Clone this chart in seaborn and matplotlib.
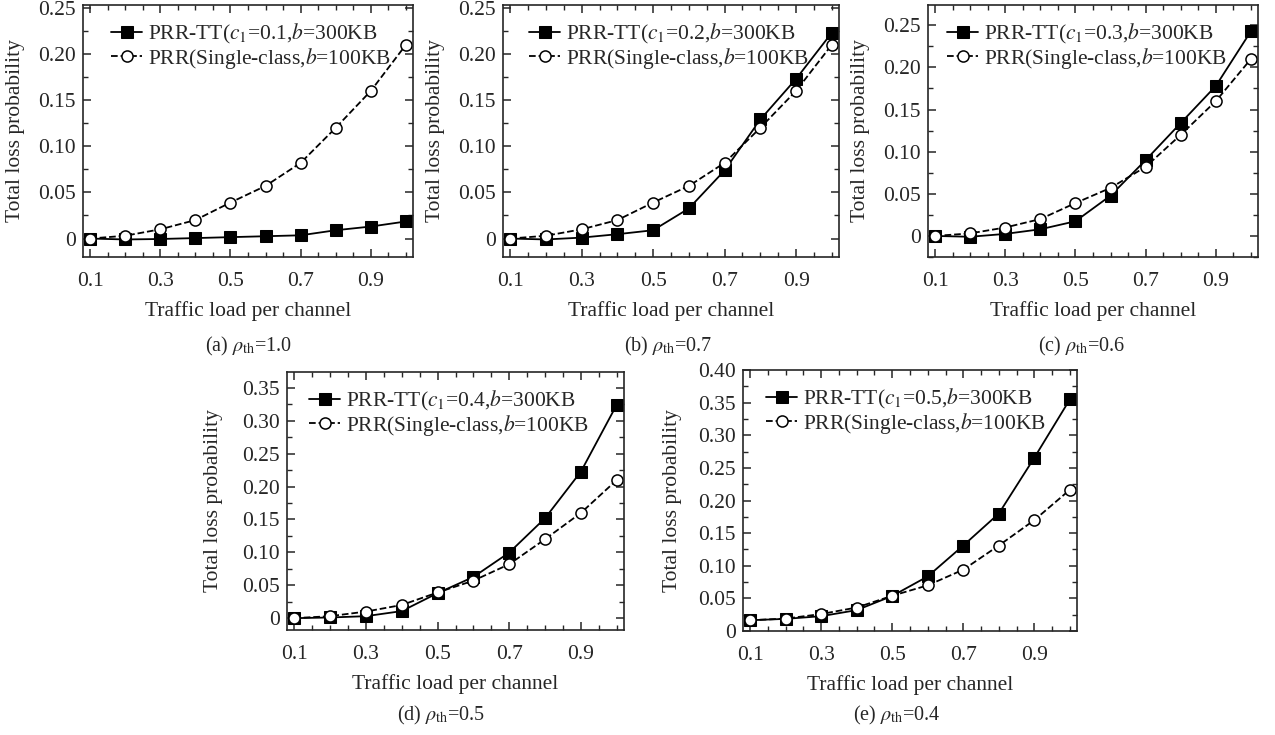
import numpy as np
import pandas as pd
import matplotlib
matplotlib.use("Agg")
import matplotlib.pyplot as plt
import seaborn as sns
from matplotlib.ticker import MultipleLocator, FuncFormatter

# ─────────────────────────────────────────────
#  DATA
# ─────────────────────────────────────────────
load = [0.1, 0.2, 0.3, 0.4, 0.5, 0.6, 0.7, 0.8, 0.9, 1.0]

prr_single = [0.0, 0.003, 0.010, 0.020, 0.039, 0.057, 0.082, 0.120, 0.160, 0.210]
prr_single_e = [0.0165, 0.019, 0.026, 0.036, 0.054, 0.070, 0.094, 0.131, 0.170, 0.2165]

prr_tt_a = [0.0, -0.001, -0.0005, 0.0005, 0.0015, 0.0025, 0.0035, 0.009, 0.013, 0.0185]
prr_tt_b = [0.0, -0.001, 0.001, 0.0047, 0.009, 0.0326, 0.0738, 0.129, 0.173, 0.223]
prr_tt_c = [0.0, -0.001, 0.0024, 0.0079, 0.0174, 0.0478, 0.090, 0.134, 0.178, 0.243]
prr_tt_d = [0.0, 0.001, 0.003, 0.0107, 0.038, 0.0626, 0.0997, 0.152, 0.2228, 0.3245]
prr_tt_e = [0.0165, 0.0186, 0.0227, 0.032, 0.0537, 0.0837, 0.131, 0.180, 0.2656, 0.355]

c1_values = ["0.1", "0.2", "0.3", "0.4", "0.5"]
rho_th = ["1.0", "0.7", "0.6", "0.5", "0.4"]
panel_tags = ["a", "b", "c", "d", "e"]
xticks = [0.1, 0.3, 0.5, 0.7, 0.9]

# ─────────────────────────────────────────────
#  STYLE
# ─────────────────────────────────────────────
sns.set_style("ticks")
plt.rcParams["font.family"] = ["Liberation Serif", "DejaVu Serif"]
plt.rcParams["mathtext.fontset"] = "stix"
plt.rcParams["xtick.direction"] = "in"
plt.rcParams["ytick.direction"] = "in"
plt.rcParams["xtick.top"] = True
plt.rcParams["ytick.right"] = True
plt.rcParams["axes.linewidth"] = 1.2

W, H = 1275, 735
fig = plt.figure(figsize=(12.75, 7.35), dpi=100)

# axes boxes in pixels: left, top, right, bottom
boxes = [(83, 5, 413, 257), (503, 5, 839, 257), (928, 5, 1258, 257),
         (287, 372, 624, 630), (743, 370, 1077, 631)]
ylims = [(-0.02, 0.253), (-0.02, 0.253), (-0.025, 0.274),
         (-0.018, 0.374), (0.0, 0.40)]
ylabel_off = [58, 58, 58, 64, 61]
legend_off = [15, 13, 6, 9, 10]     # px from left spine to legend box
captions_xy = [(249, 346), (668, 346), (1082, 346), (441, 715), (897, 715)]

tt_series = [prr_tt_a, prr_tt_b, prr_tt_c, prr_tt_d, prr_tt_e]
single_series = [prr_single, prr_single, prr_single, prr_single, prr_single_e]


def fmt_y(v, pos):
    return "0" if abs(v) < 1e-9 else f"{v:.2f}"


for i in range(5):
    l, t, r, b = boxes[i]
    ax = fig.add_axes([l / W, 1 - b / H, (r - l) / W, (b - t) / H])

    df = pd.DataFrame({"load": load, "tt": tt_series[i], "single": single_series[i]})

    sns.lineplot(data=df, x="load", y="tt", ax=ax, color="black", lw=1.3,
                 marker="s", markersize=9, markerfacecolor="black",
                 markeredgecolor="black",
                 label=f"PRR-TT($c_1$={c1_values[i]},$b$=300KB")
    sns.lineplot(data=df, x="load", y="single", ax=ax, color="black", lw=1.3,
                 linestyle="--", marker="o", markersize=8,
                 markerfacecolor="white", markeredgecolor="black",
                 markeredgewidth=1.1,
                 label="PRR(Single-class,$b$=100KB")

    ax.set_xlim(0.08, 1.02)
    ax.set_ylim(*ylims[i])
    ax.set_xticks(xticks)
    ax.xaxis.set_minor_locator(MultipleLocator(0.05))
    ax.yaxis.set_major_locator(MultipleLocator(0.05))
    ax.yaxis.set_minor_locator(MultipleLocator(0.025))
    ax.yaxis.set_major_formatter(FuncFormatter(fmt_y))
    ax.xaxis.set_major_formatter(FuncFormatter(lambda v, p: f"{v:.1f}"))
    ax.tick_params(which="major", length=6, width=1.1, labelsize=15.5, pad=5)
    ax.tick_params(axis="x", which="major", pad=11)
    ax.tick_params(which="minor", length=3.5, width=1.0, top=True, right=True)
    for s in ax.spines.values():
        s.set_visible(True)

    ax.set_xlabel("Traffic load per channel", fontsize=15.5, labelpad=7)
    ax.set_ylabel("Total loss probability", fontsize=15.5)
    ax.yaxis.set_label_coords(-ylabel_off[i] / (r - l), 0.5)

    ax.legend(loc="upper left", frameon=False, fontsize=15.5,
              handlelength=1.45, handletextpad=0.25, labelspacing=0.0,
              borderaxespad=0.2,
              bbox_to_anchor=(legend_off[i] / (r - l), 0.985))

    cx, cy = captions_xy[i]
    fig.text(cx / W, 1 - cy / H,
             f"({panel_tags[i]}) $\\rho_{{\\mathrm{{th}}}}$={rho_th[i]}",
             ha="center", va="center", fontsize=14.5)

fig.savefig("out.png", dpi=100)
